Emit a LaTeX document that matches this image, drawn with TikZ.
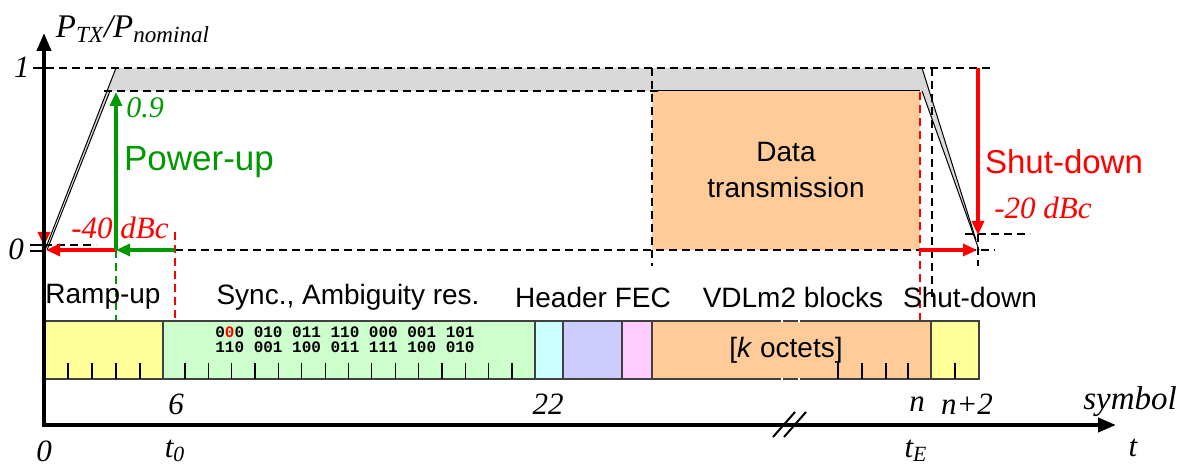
\documentclass[tikz,border=0pt]{standalone}
\usepackage{fontspec}
\setmainfont{Liberation Serif}
\setsansfont{Liberation Sans}
\setmonofont{Liberation Mono}
\usetikzlibrary{arrows.meta}

\begin{document}
\begin{tikzpicture}[x=0.5pt,y=0.5pt,yscale=-1,xscale=1,
  lvl/.style={draw={rgb, 255:red, 0; green, 0; blue, 0 }, line width=1.3pt, dash pattern={on 4pt off 2.5pt}},
  redarrow/.style={draw={rgb, 255:red, 255; green, 0; blue, 0 }, line width=1.6pt, -{Triangle[length=7pt,width=6pt]}},
  greenarrow/.style={draw={rgb, 255:red, 0; green, 153; blue, 0 }, line width=1.6pt, -{Triangle[length=7pt,width=6pt]}},
  seg/.style={draw={rgb, 255:red, 64; green, 64; blue, 64 }, line width=0.7pt},
  lbl/.style={font=\fontsize{15.5}{18}\selectfont\itshape, inner sep=0pt},
  barlbl/.style={font=\sffamily\fontsize{14}{16}\selectfont, inner sep=0pt}]
\useasboundingbox (0,0) rectangle (1188,470);

%Shape: Polygon (gray power envelope)
\draw [fill={rgb, 255:red, 217; green, 217; blue, 217 }, draw=none] (45,250) -- (116,68) -- (922,68) -- (976,240) -- (979,250) -- (922,91) -- (110,91) -- cycle ;
%Shape: Rectangle (data transmission)
\draw [fill={rgb, 255:red, 255; green, 204; blue, 153 }, draw=none] (652,91) rectangle (920,250) ;
%Straight Lines (ramp edges)
\draw [line width=0.5pt] (45,250) -- (116,68) ;
\draw [line width=0.5pt] (47,250) -- (110,91) ;
\draw [line width=0.5pt] (922,68) -- (976,240) ;
\draw [line width=0.5pt] (922,91) -- (979,250) ;
\draw [line width=0.5pt] (652,91) -- (920,91) ;

%Dashed levels
\draw [lvl] (33,68) -- (990,68) ;
\draw [lvl] (104,91) -- (660,91) ;
\draw [lvl] (44,245) -- (96,245) ;
\draw [lvl] (175,250) -- (995,250) ;
\draw [lvl] (965,234) -- (1030,234) ;
\draw [lvl] (652,68) -- (652,266) ;
\draw [lvl] (932,68) -- (932,298) ;
\draw [lvl] (978,234) -- (978,266) ;

%Coordinates for arrows
\coordinate (top0) at (44,68) ;
\coordinate (low0) at (44,246) ;
\coordinate (pu) at (116,250) ;
\coordinate (pu9) at (116,92) ;
\coordinate (tz) at (175,250) ;
\coordinate (orig) at (46,250) ;
\coordinate (sdtop) at (978,68) ;
\coordinate (sdlow) at (978,235) ;
\coordinate (te) at (920,250) ;
\coordinate (te2) at (977,250) ;

%Vertical markers
\draw [draw={rgb, 255:red, 0; green, 153; blue, 0 }, line width=1.2pt, dash pattern={on 4pt off 2.5pt}] (pu) -- (116,380) ;
\draw [draw={rgb, 255:red, 255; green, 0; blue, 0 }, line width=1.2pt, dash pattern={on 4pt off 2.5pt}] (175,232) -- (175,380) ;
\draw [draw={rgb, 255:red, 255; green, 0; blue, 0 }, line width=1.2pt, dash pattern={on 4pt off 2.5pt}] (920,92) -- (920,380) ;

%Arrows
\draw [redarrow] (top0) -- (low0) ;
\draw [redarrow] (pu) -- (orig) ;
\draw [greenarrow] (tz) -- (pu) ;
\draw [greenarrow] (pu) -- (pu9) ;
\draw [redarrow] (sdtop) -- (sdlow) ;
\draw [redarrow] (te) -- (te2) ;

%Shape: Rectangles (symbol bar)
\draw [seg, fill={rgb, 255:red, 255; green, 255; blue, 153 }] (44,321) rectangle (163,379) ;
\draw [seg, fill={rgb, 255:red, 204; green, 255; blue, 204 }] (163,321) rectangle (535,379) ;
\draw [seg, fill={rgb, 255:red, 204; green, 255; blue, 255 }] (535,321) rectangle (563,379) ;
\draw [seg, fill={rgb, 255:red, 204; green, 204; blue, 255 }] (563,321) rectangle (622,379) ;
\draw [seg, fill={rgb, 255:red, 255; green, 204; blue, 255 }] (622,321) rectangle (652,379) ;
\draw [seg, fill={rgb, 255:red, 255; green, 204; blue, 153 }] (652,321) rectangle (931,379) ;
\draw [seg, fill={rgb, 255:red, 255; green, 255; blue, 153 }] (931,321) rectangle (979,379) ;
%break gaps in the data block
\foreach \gx in {781,798} {
  \draw [white, line width=1.5pt] (\gx,321) -- (\gx+2,321) ;
  \draw [white, line width=1.5pt] (\gx,379) -- (\gx+2,379) ;
}
%Ticks
\foreach \tx in {68,92,116,140,838,862,886,908,955}
  \draw [line width=0.6pt] (\tx,363) -- (\tx,379) ;
\foreach \i in {0,...,14}
  \draw [line width=0.6pt] (185+23.36*\i,363) -- (185+23.36*\i,379) ;

%Axes
\draw [line width=2pt, -{Triangle[length=9pt,width=7pt]}] (44,425) -- (44,33) ;
\draw [line width=2pt, -{Triangle[length=9pt,width=7pt]}] (42,425) -- (1116,425) ;
\draw [line width=1pt] (34,68) -- (44,68) ;
\draw [line width=1pt] (30,245) -- (44,245) ;
\draw [line width=1pt] (30,251) -- (44,251) ;
\draw [line width=1pt] (773,437) -- (795,412) ;
\draw [line width=1pt] (784,437) -- (806,412) ;

%Labels
\node [lbl, font=\fontsize{16.5}{18}\selectfont\itshape] (ylab) at (133,29) {\textit{P}\textsubscript{\textit{TX}}/\textit{P}\textsubscript{\textit{nominal}}} ;
\node [lbl] (one) at (22,67) {1} ;
\node [lbl] (zero) at (16,249) {0} ;
\node [lbl, text={rgb, 255:red, 0; green, 153; blue, 0 }, font=\fontsize{15}{17}\selectfont\itshape] (ninety) at (145,108) {0.9} ;
\node [font=\sffamily\fontsize{17.5}{20}\selectfont, text={rgb, 255:red, 0; green, 153; blue, 0 }, inner sep=0pt] (powerup) at (199,162) {Power-up} ;
\node [lbl, text={rgb, 255:red, 255; green, 0; blue, 0 }] (m40) at (120,228) {-40 dBc} ;
\node [font=\sffamily\fontsize{16.5}{18}\selectfont, text={rgb, 255:red, 255; green, 0; blue, 0 }, inner sep=0pt] (shutdown) at (1064,162) {Shut-down} ;
\node [lbl, text={rgb, 255:red, 255; green, 0; blue, 0 }] (m20) at (1043,208) {-20 dBc} ;
\node [barlbl, align=center, font=\sffamily\fontsize{14}{18}\selectfont] (data) at (786,170) {Data\\transmission} ;

\node [barlbl] (rampup) at (103,297) {Ramp-up} ;
\node [barlbl] (sync) at (348,297) {Sync., Ambiguity res.} ;
\node [barlbl] (header) at (593,297) {Header FEC} ;
\node [barlbl] (vdl) at (793,297) {VDLm2 blocks} ;
\node [barlbl] (sdbar) at (970,297) {Shut-down} ;
\node [font=\ttfamily\bfseries\fontsize{8}{7.5}\selectfont, align=left, inner sep=0pt] (bits) at (345,340) {0\textcolor{red}{0}0 010 011 110 000 001 101\\110 001 100 011 111 100 010} ;
\node [barlbl] (octets) at (786,350) {[\textit{k} octets]} ;

\node [lbl] (s6) at (176,404) {6} ;
\node [lbl] (s22) at (548,404) {22} ;
\node [lbl] (sn) at (917,404) {n} ;
\node [lbl] (sn2) at (967,404) {n+2} ;
\node [lbl, font=\fontsize{16.5}{18}\selectfont\itshape] (symb) at (1130,402) {symbol} ;
\node [lbl] (t00) at (44,451) {0} ;
\node [lbl] (tzero) at (175,451) {t\textsubscript{0}} ;
\node [lbl] (tend) at (916,451) {t\textsubscript{E}} ;
\node [lbl] (tt) at (1133,448) {t} ;

\end{tikzpicture}
\end{document}
